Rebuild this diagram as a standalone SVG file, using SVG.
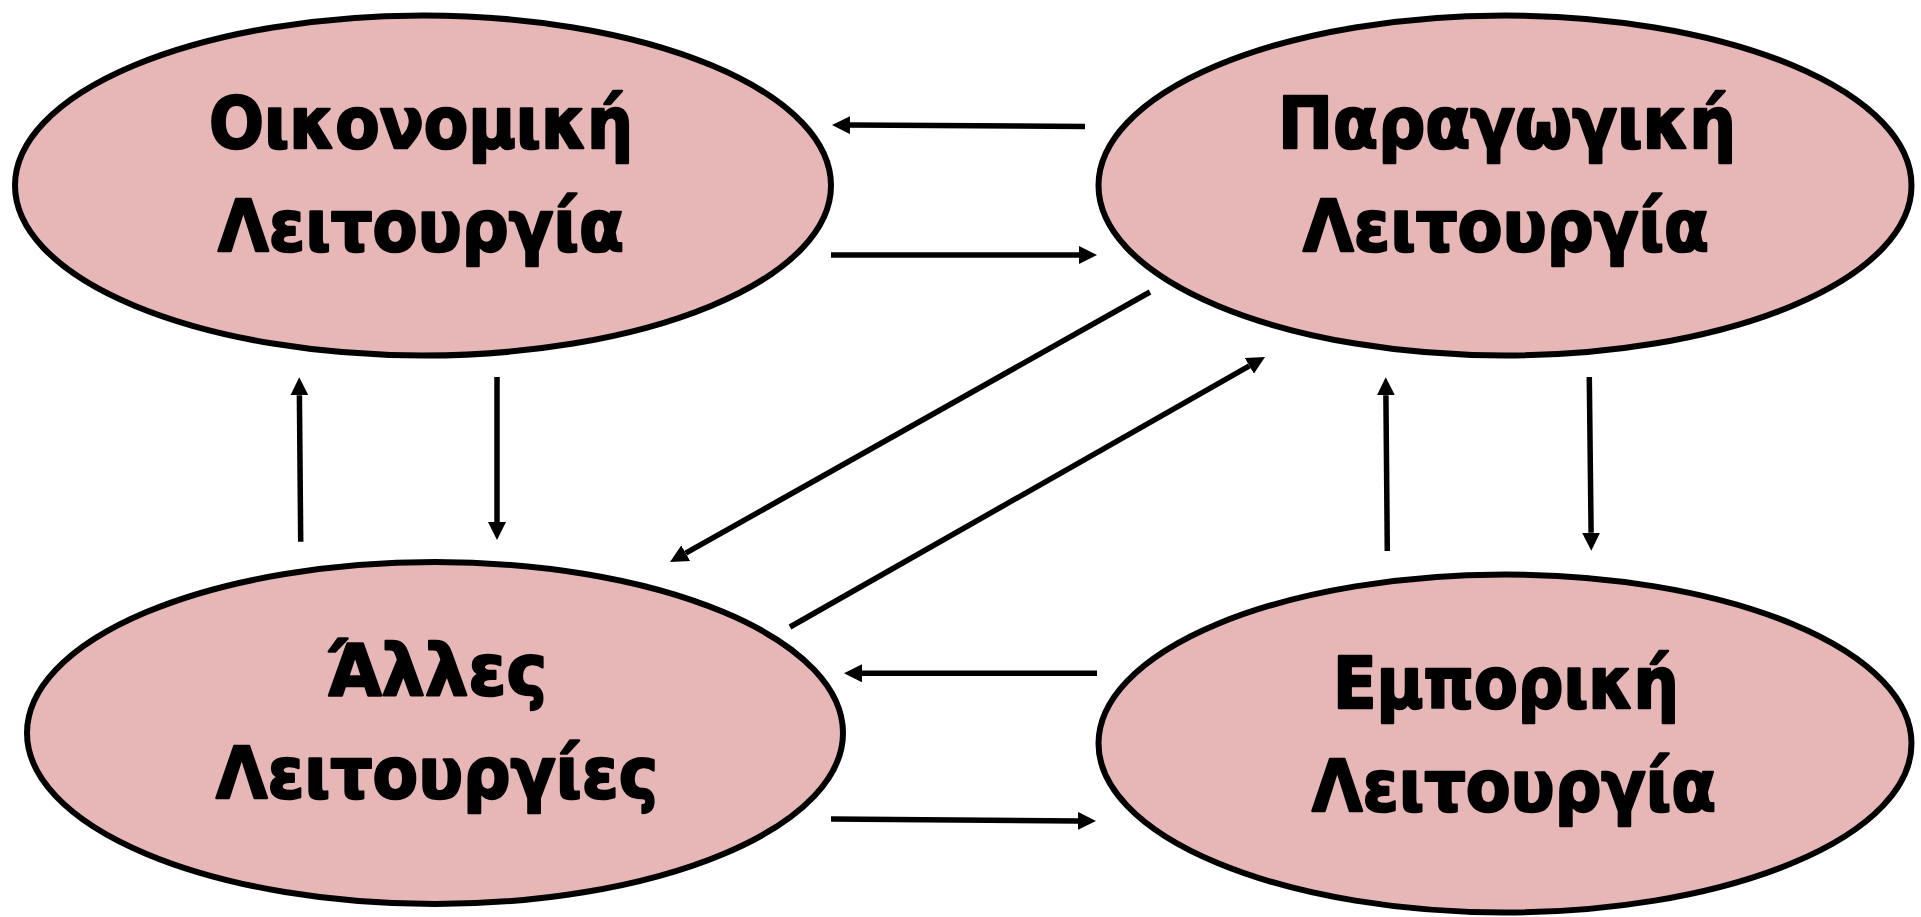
<svg xmlns="http://www.w3.org/2000/svg" width="1921" height="917" viewBox="0 0 1921 917">
  <style>
    .node ellipse { fill: #E6B7B6; stroke: #000; stroke-width: 6; }
    .node text { font-family: "DejaVu Sans", "Liberation Sans", sans-serif; font-weight: bold; font-size: 72px; fill: #000; stroke: #000; stroke-width: 2.4; stroke-linejoin: round; text-anchor: middle; }
    .conn line { stroke: #000; stroke-width: 5.5; fill: none; marker-end: url(#arrow); }
  </style>
  <defs>
    <marker id="arrow" markerUnits="userSpaceOnUse" viewBox="0 0 18 18" markerWidth="18" markerHeight="18" refX="0" refY="9" orient="auto">
      <path d="M0,0 L18,9 L0,18 Z" fill="#000"/>
    </marker>
  </defs>
  <rect width="1921" height="917" fill="#fff"/>
  <g id="node-oikonomiki" class="node">
    <ellipse cx="423" cy="185.5" rx="408" ry="170"/>
    <text x="421" y="148" textLength="424" lengthAdjust="spacingAndGlyphs">Οικονομική</text>
    <text x="421" y="251" textLength="406" lengthAdjust="spacingAndGlyphs">Λειτουργία</text>
  </g>
  <g id="node-paragogiki" class="node">
    <ellipse cx="1505" cy="185.5" rx="406.5" ry="170"/>
    <text x="1507" y="148" textLength="458" lengthAdjust="spacingAndGlyphs">Παραγωγική</text>
    <text x="1506" y="251" textLength="406" lengthAdjust="spacingAndGlyphs">Λειτουργία</text>
  </g>
  <g id="node-alles" class="node">
    <ellipse cx="435" cy="733" rx="408" ry="171"/>
    <text x="437" y="695" textLength="220" lengthAdjust="spacingAndGlyphs">Άλλες</text>
    <text x="437" y="798" textLength="442" lengthAdjust="spacingAndGlyphs">Λειτουργίες</text>
  </g>
  <g id="node-emporiki" class="node">
    <ellipse cx="1505" cy="743.5" rx="406.5" ry="169"/>
    <text x="1506" y="708" textLength="346" lengthAdjust="spacingAndGlyphs">Εμπορική</text>
    <text x="1514" y="811" textLength="404" lengthAdjust="spacingAndGlyphs">Λειτουργία</text>
  </g>
  <g id="connectors" class="conn">
    <line x1="1085" y1="126.5" x2="850" y2="125.1"/>
    <line x1="831" y1="255" x2="1079" y2="255"/>
    <line x1="300.7" y1="541.7" x2="299.4" y2="395.3"/>
    <line x1="497" y1="377" x2="497" y2="522"/>
    <line x1="1387.3" y1="551" x2="1385.9" y2="395.3"/>
    <line x1="1589.3" y1="377" x2="1591.1" y2="532.7"/>
    <line x1="1150" y1="292" x2="685.7" y2="553.2"/>
    <line x1="790" y1="627" x2="1249.4" y2="365.9"/>
    <line x1="1097" y1="673.3" x2="862" y2="673.3"/>
    <line x1="831" y1="819" x2="1078" y2="820.9"/>
  </g>
</svg>
